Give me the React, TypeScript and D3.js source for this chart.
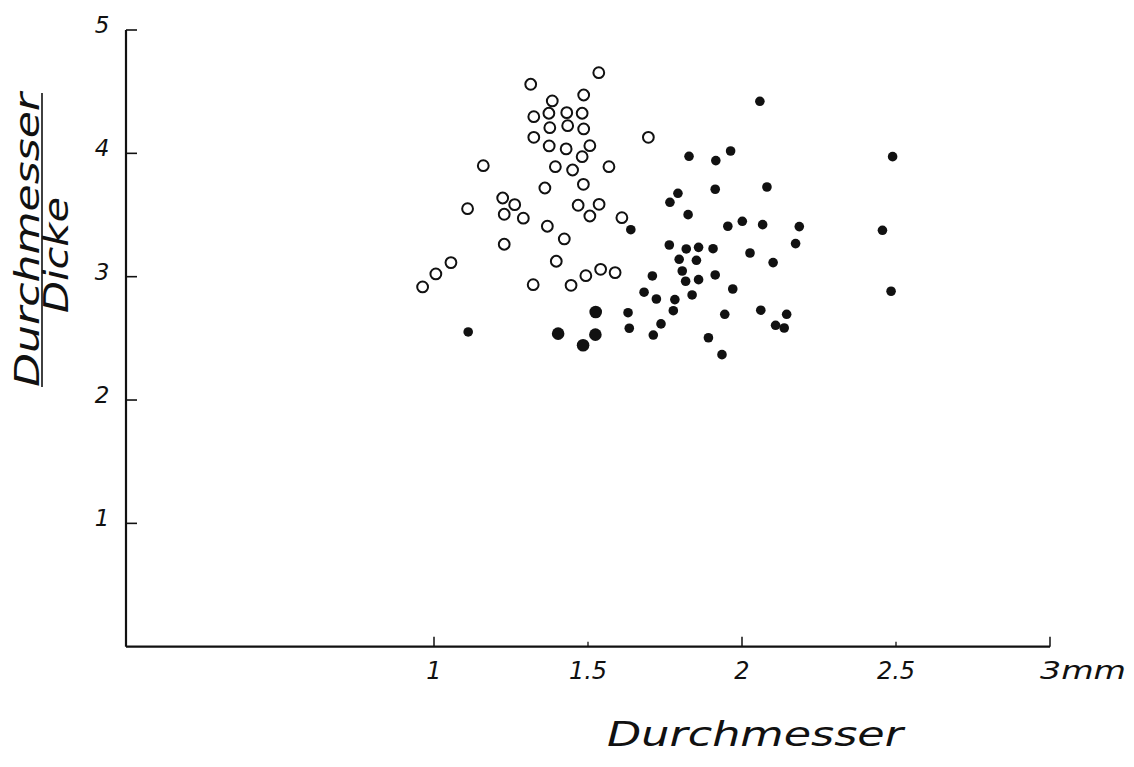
import React from "react";
import * as d3 from "d3";

// Hollow circles: [Durchmesser (mm), Durchmesser/Dicke]
const openX = [1.535, 1.314, 1.486, 1.384, 1.324, 1.373, 1.431, 1.481, 1.376, 1.434, 1.486, 1.324, 1.696, 1.374, 1.429, 1.506, 1.481, 1.16, 1.394, 1.45, 1.568, 1.485, 1.36, 1.223, 1.262, 1.109, 1.228, 1.29, 1.468, 1.536, 1.506, 1.61, 1.368, 1.423, 1.228, 1.055, 1.006, 0.963, 1.397, 1.322, 1.445, 1.493, 1.541, 1.588];
const openY = [4.654, 4.56, 4.473, 4.425, 4.297, 4.325, 4.33, 4.325, 4.208, 4.224, 4.198, 4.13, 4.13, 4.06, 4.036, 4.062, 3.973, 3.9, 3.892, 3.865, 3.892, 3.749, 3.719, 3.638, 3.584, 3.551, 3.506, 3.474, 3.579, 3.587, 3.492, 3.478, 3.409, 3.306, 3.263, 3.114, 3.022, 2.917, 3.125, 2.935, 2.93, 3.008, 3.06, 3.033];

// Small filled dots
const filledX = [1.639, 1.111, 1.63, 1.634, 1.709, 1.682, 1.722, 1.712, 2.058, 2.489, 1.828, 1.915, 1.963, 1.792, 1.766, 1.913, 2.081, 1.825, 1.954, 2.001, 2.067, 2.186, 2.456, 2.174, 1.764, 1.819, 1.859, 1.906, 1.796, 1.852, 2.026, 2.101, 1.806, 1.913, 1.817, 1.859, 1.782, 1.777, 1.838, 1.97, 2.484, 1.737, 1.944, 2.061, 2.145, 2.109, 2.137, 1.891, 1.935];
const filledY = [3.381, 2.552, 2.708, 2.582, 3.006, 2.874, 2.819, 2.527, 4.422, 3.973, 3.976, 3.941, 4.019, 3.676, 3.603, 3.709, 3.727, 3.503, 3.409, 3.449, 3.422, 3.406, 3.376, 3.268, 3.257, 3.225, 3.238, 3.227, 3.141, 3.133, 3.192, 3.114, 3.046, 3.014, 2.963, 2.976, 2.814, 2.724, 2.852, 2.9, 2.882, 2.617, 2.695, 2.728, 2.695, 2.606, 2.584, 2.505, 2.368];

// Larger filled dots
const bigX = [1.403, 1.525, 1.524, 1.484];
const bigY = [2.538, 2.714, 2.53, 2.444];

const xMajorTicks = [1, 2, 3];
const xMinorTicks = [1.5, 2.5];
const xTickLabels = ["1", "1.5", "2", "2.5", "3mm"];
const xTickLabelValues = [1, 1.5, 2, 2.5, 3];
const yTicks = [1, 2, 3, 4, 5];

const xTitle = "Durchmesser";
const yTitleTop = "Durchmesser";
const yTitleBottom = "Dicke";

const FONT = "'DejaVu Sans', 'Liberation Sans', sans-serif";

export default function App() {
  const W = 1134;
  const H = 767;
  const x = d3.scaleLinear().domain([0, 3]).range([126, 1050]);
  const y = d3.scaleLinear().domain([0, 5]).range([646.7, 30]);
  const x0 = x(0);
  const y0 = y(0);

  const txt = { fontFamily: FONT, fontStyle: "italic", fill: "#111" } as any;

  return (
    <svg
      width={W}
      height={H}
      viewBox={`0 0 ${W} ${H}`}
      style={{ position: "absolute", left: 0, top: 0, background: "#fff" }}
    >
      <rect width={W} height={H} fill="#fff" />
      {/* axes */}
      <line x1={x0} y1={y(5)} x2={x0} y2={y0} stroke="#111" strokeWidth={2.2} />
      <line x1={x0} y1={y0} x2={x(3)} y2={y0} stroke="#111" strokeWidth={2.2} />
      {/* y ticks */}
      {yTicks.map((t) => (
        <g key={"yt" + t}>
          <line x1={x0} x2={x0 + 11} y1={y(t)} y2={y(t)} stroke="#111" strokeWidth={1.6} />
          <text {...txt} x={102} y={y(t) + 3} fontSize={23} textAnchor="middle">
            {String(t)}
          </text>
        </g>
      ))}
      {/* x ticks */}
      {xMajorTicks.map((t) => (
        <line key={"xm" + t} x1={x(t)} x2={x(t)} y1={y0} y2={y0 - 10} stroke="#111" strokeWidth={1.5} />
      ))}
      {xMinorTicks.map((t) => (
        <line key={"xn" + t} x1={x(t)} x2={x(t)} y1={y0} y2={y0 - 5} stroke="#111" strokeWidth={1.3} />
      ))}
      {xTickLabels.map((lab, i) => {
        const v = xTickLabelValues[i];
        const isLast = i === xTickLabels.length - 1;
        return (
          <text
            key={"xl" + i}
            {...txt}
            x={isLast ? x(v) - 10 : x(v)}
            y={679}
            fontSize={24}
            textAnchor={isLast ? "start" : "middle"}
            {...(isLast ? { textLength: 86, lengthAdjust: "spacingAndGlyphs" } : {})}
          >
            {lab}
          </text>
        );
      })}
      {/* x title */}
      <text {...txt} x={607} y={746} fontSize={33} textLength={296} lengthAdjust="spacingAndGlyphs">
        {xTitle}
      </text>
      {/* y title as fraction */}
      <text
        {...txt}
        transform="translate(39,240) rotate(-90)"
        fontSize={33}
        textAnchor="middle"
        textLength={294}
        lengthAdjust="spacingAndGlyphs"
      >
        {yTitleTop}
      </text>
      <line x1={42} x2={42} y1={93} y2={387} stroke="#111" strokeWidth={1.6} />
      <text
        {...txt}
        transform="translate(68,255) rotate(-90)"
        fontSize={33}
        textAnchor="middle"
        textLength={116}
        lengthAdjust="spacingAndGlyphs"
      >
        {yTitleBottom}
      </text>
      {/* points */}
      {openX.map((v, i) => (
        <circle key={"o" + i} cx={x(v)} cy={y(openY[i])} r={5.4} fill="#fff" stroke="#111" strokeWidth={2} />
      ))}
      {filledX.map((v, i) => (
        <circle key={"f" + i} cx={x(v)} cy={y(filledY[i])} r={4.8} fill="#111" />
      ))}
      {bigX.map((v, i) => (
        <circle key={"b" + i} cx={x(v)} cy={y(bigY[i])} r={6.3} fill="#111" />
      ))}
    </svg>
  );
}
